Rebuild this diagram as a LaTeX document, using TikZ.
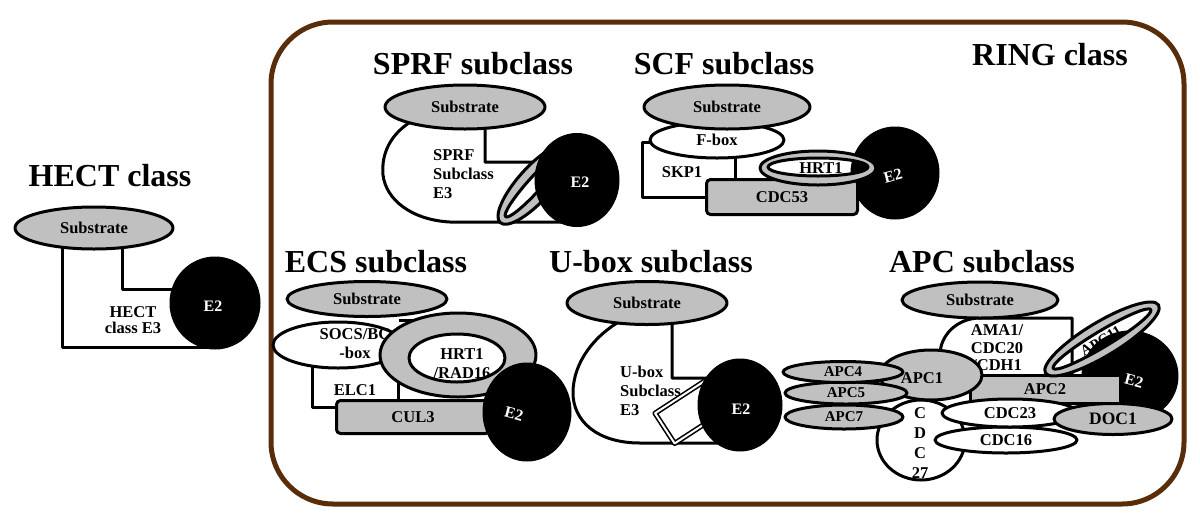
\documentclass[tikz,border=0pt]{standalone}
\usepackage{fontspec}
\setmainfont{Liberation Serif}
\usetikzlibrary{shapes.geometric}
\definecolor{gfill}{RGB}{192,192,192}
\definecolor{brownb}{RGB}{90,45,10}
\begin{document}
\begin{tikzpicture}[x=1pt,y=-1pt, line join=round,
  ol/.style={draw=black, line width=3pt},
  el/.style={ellipse, ol, inner sep=0pt, font=\fontsize{16.5}{18}\selectfont\bfseries},
  gel/.style={el, fill=gfill},
  wel/.style={el, fill=white},
  sel/.style={gel, font=\fontsize{15}{16}\selectfont\bfseries},
  e2/.style={ellipse, fill=black, draw=black, line width=1pt, inner sep=0pt},
  e2t/.style={text=white, inner sep=0pt, font=\fontsize{16}{17}\selectfont\bfseries},
  lbl/.style={inner sep=0pt, font=\fontsize{16.5}{19}\selectfont\bfseries, align=left},
  lblc/.style={lbl, align=center},
  ttl/.style={inner sep=0pt, font=\fontsize{32}{36}\selectfont\bfseries},
  gbox/.style={rectangle, rounded corners=4pt, ol, fill=gfill, inner sep=0pt, font=\fontsize{16.5}{18}\selectfont\bfseries},
  shapethree/.style={ol, fill=white},
  ring/.style={ol, fill=gfill, even odd rule}
]
\useasboundingbox (0,0) rectangle (1200,531);

% RING class frame
\draw[brownb, line width=5pt, rounded corners=62pt] (271,22) rectangle (1184,504);
\node[ttl] (rt) at (1050,55) {RING class};

% ---------------- HECT class
\node[ttl] (ht) at (110,176) {HECT class};
\path[shapethree] (62,240) -- (62,347) -- (215,347) -- (215,289) -- (122,289) -- (122,240) -- cycle;
\node[gel, minimum width=158, minimum height=42] (hs) at (94,228) {Substrate};
\node[e2, minimum width=90, minimum height=92] (he2) at (215,303) {};
\node[e2t] (he2t) at (213,306) {E2};
\node[lblc, font=\fontsize{16.5}{16}\selectfont\bfseries] (he3) at (133,320) {HECT\\class E3};

% ---------------- SPRF subclass
\node[ttl] (st) at (473,64) {SPRF subclass};
\path[shapethree] (485,121) -- (485,162) -- (577,162) -- (577,222) -- (450,222)
   .. controls (412,220) and (386,200) .. (383,175)
   .. controls (381,152) and (392,133) .. (412,121) -- cycle;
\path[ring, rotate around={48:(535,184)}] (535,184) ellipse (52 and 17) (535,184) ellipse (44 and 7);
\node[gel, minimum width=160, minimum height=44] (ss) at (465,107) {Substrate};
\node[e2, minimum width=84, minimum height=93] (se2) at (577,180) {};
\node[e2t] (se2t) at (580,182) {E2};
\node[lbl, anchor=west] (se3) at (433,174) {SPRF\\Subclass\\E3};

% ---------------- SCF subclass
\node[ttl] (ct) at (724,64) {SCF subclass};
\node[e2, minimum width=88, minimum height=92] (ce2) at (895,173) {};
\path[shapethree] (642,142) rectangle (735,197);
\node[wel, minimum width=134, minimum height=36] (cf) at (717,140) {F-box};
\node[gel, minimum width=166, minimum height=44] (cs) at (727,107) {Substrate};
\node[gbox, minimum width=151, minimum height=35] (cc) at (782,197) {CDC53};
\path[ring] (818,168) ellipse (58 and 17) (818,167) ellipse (50 and 9);
\node[lbl] (ch) at (821,168) {HRT1};
\node[lbl] (ck) at (682,172) {SKP1};
\node[e2t, rotate=15] (ce2t) at (893,176) {E2};

% ---------------- ECS subclass
\node[ttl] (et) at (376,262) {ECS subclass};
\fill[white] (398,320) rectangle (445,400);
\draw[ol] (399,320) -- (445,320);
\path[shapethree] (312,350) rectangle (398,407);
\node[wel, minimum width=130, minimum height=46] (es) at (338,345) {};
\node[lblc] (est) at (355,344) {SOCS/BC\\-box};
\node[lbl] (eel) at (355,390) {ELC1};
\node[gel, minimum width=160, minimum height=35] (esb) at (367,299) {Substrate};
\path[ring] (458,355) ellipse (78 and 42) (457,358) ellipse (48 and 24);
\node[lblc] (ehr) at (462,364) {HRT1\\/RAD16};
\node[gbox, minimum width=153, minimum height=33] (ec) at (413,417) {CUL3};
\node[e2, minimum width=88, minimum height=98] (ee2) at (527,412) {};
\node[e2t, rotate=-15] (ee2t) at (514,414) {E2};

% ---------------- U-box subclass
\node[ttl] (ut) at (651,262) {U-box subclass};
\path[shapethree] (672,320) -- (672,378) -- (740,378) -- (740,443) -- (640,443)
   .. controls (596,443) and (573,420) .. (573,393)
   .. controls (573,362) and (595,335) .. (622,320) -- cycle;
\node[gel, minimum width=160, minimum height=43] (us) at (647,303) {Substrate};
\draw[line width=1.6pt, double=white, double distance=2pt, fill=white, rotate around={33:(690,412)}] (660,394) rectangle (720,430);
\node[e2, minimum width=84, minimum height=92] (ue2) at (740,405) {};
\node[e2t] (ue2t) at (741,409) {E2};
\node[lbl, anchor=west] (ue3) at (620,391) {U-box\\Subclass\\E3};

% ---------------- APC subclass
\node[ttl] (at) at (982,262) {APC subclass};
\node[e2, minimum width=96, minimum height=90] (ae2) at (1130,376) {};
\path[shapethree] (1072,395) -- (1072,318) -- (980,318) arc[start angle=270, end angle=90, x radius=40, y radius=37] -- cycle;
\node[gel, minimum width=156, minimum height=36] (as) at (980,300) {Substrate};
\node[lblc, font=\fontsize{16.5}{17.5}\selectfont\bfseries] (aam) at (997,348) {AMA1/\\CDC20\\/CDH1};
\node[gbox, rounded corners=0pt, minimum width=150, minimum height=28] (a2) at (1045,389) {APC2};
\path[ring, rotate around={31:(1102,339)}] (1102,339) ellipse (66 and 17) (1102,339) ellipse (57 and 8);
\node[lbl, rotate=31, font=\fontsize{15}{16}\selectfont\bfseries] (a11) at (1101,341) {APC11};
\node[e2t, rotate=-15] (ae2t) at (1134,381) {E2};
\node[wel, minimum width=88, minimum height=80] (a27) at (921,440) {};
\node[lblc, font=\fontsize{16.5}{19.7}\selectfont\bfseries] (a27t) at (920,443) {C\\D\\C\\27};
\node[wel, minimum width=142, minimum height=26] (a16) at (1006,440) {CDC16};
\node[wel, minimum width=136, minimum height=28] (a23) at (1010,413) {CDC23};
\node[gel, minimum width=118, minimum height=31, font=\fontsize{17.5}{19}\selectfont\bfseries] (ad) at (1113,419) {DOC1};
\node[gel, minimum width=102, minimum height=50] (a1) at (931,375) {};
\node[lbl] (a1t) at (922,378) {APC1};
\node[sel, minimum width=118, minimum height=24] (a7) at (844,417) {APC7};
\node[sel, minimum width=122, minimum height=22] (a5) at (846,393) {APC5};
\node[sel, minimum width=120, minimum height=21] (a4) at (843,372) {APC4};
\end{tikzpicture}
\end{document}
